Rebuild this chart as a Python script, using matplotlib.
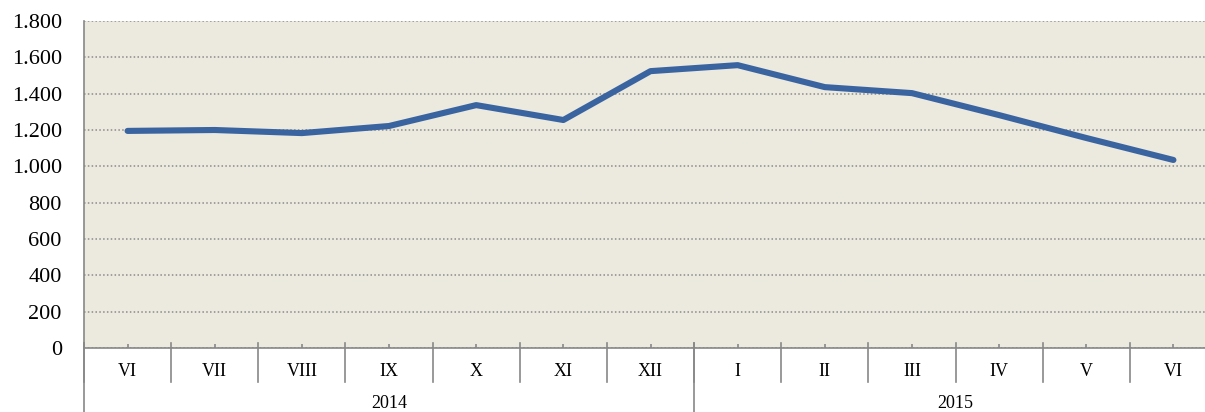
import matplotlib.pyplot as plt
from matplotlib.ticker import FuncFormatter

months = ['VI', 'VII', 'VIII', 'IX', 'X', 'XI', 'XII',
          'I', 'II', 'III', 'IV', 'V', 'VI']
values = [1195, 1200, 1183, 1222, 1337, 1255, 1524,
          1557, 1436, 1403, 1282, 1156, 1035]
years = ['2014', '2015']
year_counts = [7, 6]

plt.rcParams['font.family'] = ['Liberation Serif', 'DejaVu Serif']

W, H = 1205, 412
fig = plt.figure(figsize=(W / 100, H / 100), dpi=100)
left, right, top, bottom = 84, 1217, 21, 348
ax = fig.add_axes([left / W, (H - bottom) / H, (right - left) / W, (bottom - top) / H])
ax.set_facecolor('#ECE9DF')

x = list(range(len(months)))
ax.plot(x, values, color='#3A64A0', lw=4.4, solid_capstyle='round', solid_joinstyle='round', zorder=3)

ax.set_xlim(-0.5, len(months) - 0.5)
ax.set_ylim(0, 1800)
ax.set_yticks(range(0, 1801, 200))
ax.yaxis.set_major_formatter(FuncFormatter(lambda v, p: f'{int(v):,}'.replace(',', '.')))
ax.tick_params(axis='y', length=0, pad=16, labelsize=16)
ax.grid(axis='y', color='#8a8a8a', linestyle=(0, (1, 1.5)), lw=1.1)
ax.set_axisbelow(True)

for s in ['top', 'right']:
    ax.spines[s].set_visible(False)
for s in ['left', 'bottom']:
    ax.spines[s].set_color('#888888')
    ax.spines[s].set_linewidth(1.2)
ax.spines['left'].set_bounds(0, 1800)

# small ticks at category centres
ax.set_xticks(x)
ax.set_xticklabels([])
ax.tick_params(axis='x', direction='in', length=3, color='#888888', width=1.2)

trans = ax.get_xaxis_transform()
ph = bottom - top
def fy(py):
    return (bottom - py) / ph

# category separators and labels
for i in range(len(months) + 1):
    xb = i - 0.5
    ax.plot([xb, xb], [fy(343), fy(382)], transform=trans, color='#888888', lw=1.2, clip_on=False)
for i, m in enumerate(months):
    ax.text(i, fy(371), m, transform=trans, ha='center', va='center', fontsize=13)

# year groups
start = 0
for yr, n in zip(years, year_counts):
    ax.text(start + (n - 1) / 2, fy(403), yr, transform=trans, ha='center', va='center', fontsize=13)
    if start > 0:
        ax.plot([start - 0.5] * 2, [fy(343), fy(415)], transform=trans, color='#888888', lw=1.2, clip_on=False)
    start += n
ax.plot([-0.5, -0.5], [fy(343), fy(415)], transform=trans, color='#888888', lw=1.2, clip_on=False)

fig.savefig('out.png', dpi=100)
